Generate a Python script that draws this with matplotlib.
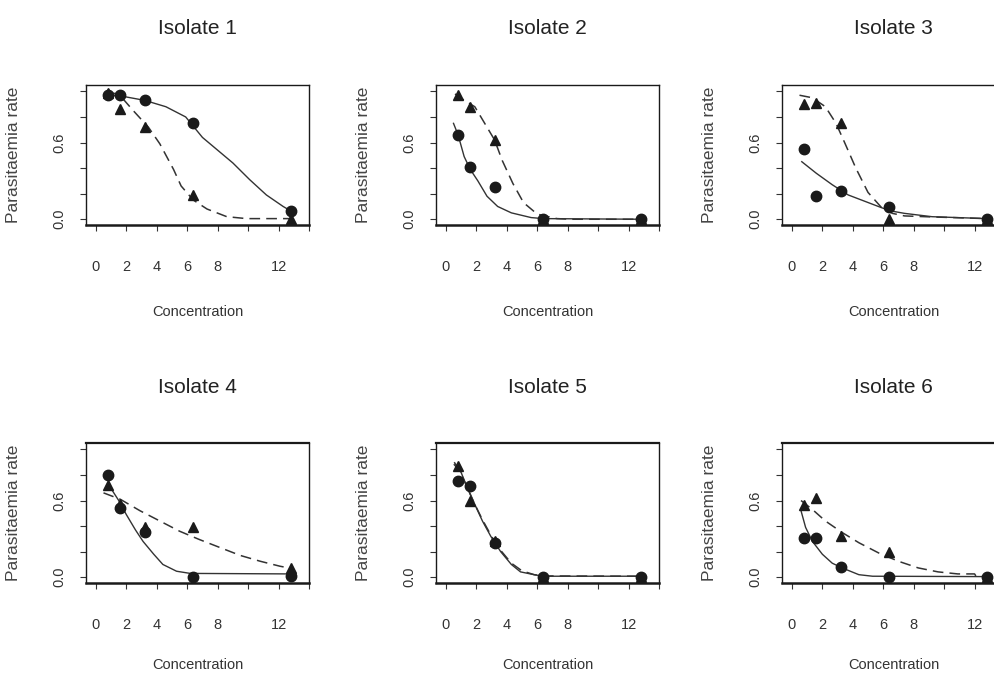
import matplotlib
matplotlib.use("Agg")
import matplotlib.pyplot as plt

# concentrations tested (same for every isolate)
conc = [0.8, 1.6, 3.2, 6.4, 12.8]

isolates = ["Isolate 1", "Isolate 2", "Isolate 3", "Isolate 4", "Isolate 5", "Isolate 6"]

# observed parasitaemia rates, circles and triangles
circle_rates = [
    [0.97, 0.97, 0.93, 0.75, 0.065],
    [0.66, 0.41, 0.25, 0.0, 0.0],
    [0.55, 0.18, 0.22, 0.095, 0.005],
    [0.80, 0.54, 0.355, 0.0, 0.01],
    [0.75, 0.71, 0.27, 0.0, 0.0],
    [0.31, 0.31, 0.08, 0.0, 0.0],
]
triangle_rates = [
    [0.99, 0.86, 0.72, 0.19, 0.0],
    [0.97, 0.88, 0.62, 0.0, 0.0],
    [0.90, 0.91, 0.755, 0.0, 0.0],
    [0.72, 0.57, 0.39, 0.39, 0.07],
    [0.87, 0.595, 0.28, 0.0, 0.0],
    [0.565, 0.62, 0.32, 0.20, 0.0],
]

# fitted curves (solid = circles, dashed = triangles)
solid_x = [
    [0.8, 1.6, 3.2, 4.6, 5.9, 7.0, 7.9, 9.0, 10.1, 11.2, 12.3, 12.8],
    [0.5, 0.8, 1.2, 1.6, 2.1, 2.7, 3.4, 4.3, 5.6, 6.4, 12.8],
    [0.65, 1.6, 2.65, 3.7, 4.8, 5.9, 6.5, 7.4, 9.2, 12.8],
    [0.8, 1.5, 2.0, 2.6, 3.1, 3.8, 4.4, 5.3, 6.2, 12.8],
    [0.55, 1.0, 1.4, 1.9, 2.4, 2.95, 3.6, 4.3, 4.9, 5.8, 6.4, 12.8],
    [0.6, 0.9, 1.35, 2.0, 2.65, 3.3, 4.4, 5.3, 12.8],
]
solid_y = [
    [0.97, 0.965, 0.93, 0.88, 0.80, 0.64, 0.55, 0.44, 0.31, 0.19, 0.10, 0.065],
    [0.75, 0.66, 0.49, 0.39, 0.30, 0.18, 0.10, 0.05, 0.013, 0.005, 0.0],
    [0.45, 0.36, 0.27, 0.19, 0.14, 0.09, 0.065, 0.046, 0.02, 0.005],
    [0.73, 0.60, 0.49, 0.37, 0.28, 0.18, 0.10, 0.047, 0.03, 0.026],
    [0.88, 0.82, 0.70, 0.57, 0.44, 0.32, 0.20, 0.10, 0.042, 0.02, 0.008, 0.008],
    [0.52, 0.39, 0.28, 0.18, 0.11, 0.073, 0.02, 0.008, 0.005],
]
dashed_x = [
    [0.8, 1.5, 2.45, 3.45, 4.2, 5.1, 5.6, 6.4, 7.3, 8.6, 9.9, 12.8],
    [0.6, 1.2, 1.9, 2.5, 3.2, 3.7, 4.4, 5.1, 6.0, 7.3, 8.2, 12.8],
    [0.5, 1.35, 2.2, 2.9, 3.5, 4.2, 5.0, 5.9, 6.6, 7.4, 9.2, 12.8],
    [0.5, 1.6, 2.9, 4.2, 5.5, 6.8, 8.2, 9.5, 10.8, 12.1, 12.9],
    [0.55, 1.0, 1.45, 1.9, 2.4, 3.0, 3.6, 4.3, 5.0, 5.8, 6.4, 12.8],
    [0.6, 1.35, 2.2, 3.3, 4.4, 5.7, 7.0, 8.3, 9.6, 10.9, 12.0, 12.1, 12.8],
]
dashed_y = [
    [0.99, 0.98, 0.85, 0.72, 0.59, 0.39, 0.26, 0.15, 0.08, 0.02, 0.005, 0.005],
    [0.98, 0.93, 0.88, 0.76, 0.62, 0.46, 0.28, 0.13, 0.04, 0.005, 0.0, 0.0],
    [0.97, 0.95, 0.88, 0.75, 0.59, 0.40, 0.21, 0.09, 0.046, 0.026, 0.018, 0.005],
    [0.66, 0.61, 0.52, 0.44, 0.36, 0.295, 0.23, 0.17, 0.125, 0.086, 0.068],
    [0.90, 0.81, 0.69, 0.57, 0.45, 0.32, 0.21, 0.11, 0.05, 0.02, 0.01, 0.008],
    [0.60, 0.53, 0.44, 0.35, 0.27, 0.19, 0.125, 0.073, 0.042, 0.026, 0.026, 0.008, 0.008],
]

x_ticks = [0, 2, 4, 6, 8, 10, 12, 14]
x_tick_labels = ["0", "2", "4", "6", "8", "", "12", ""]
y_ticks = [0.0, 0.2, 0.4, 0.6, 0.8, 1.0]
y_tick_labels = ["0.0", "", "", "0.6", "", ""]

plt.rcParams["font.family"] = ["Liberation Sans", "DejaVu Sans"]

W, H = 995, 675
fig = plt.figure(figsize=(W / 100, H / 100), dpi=100)

col_left = [86, 436, 782]
row_bottom = [225, 583]
xlabel_y = [-0.57, -0.535]
box_w, box_h = 223, 140
ink = "#1a1a1a"

for i, name in enumerate(isolates):
    r, c = divmod(i, 3)
    ax = fig.add_axes([col_left[c] / W, 1 - row_bottom[r] / H, box_w / W, box_h / H])

    ax.plot(solid_x[i], solid_y[i], color="#333333", lw=1.0, ls="-")
    ax.plot(dashed_x[i], dashed_y[i], color="#333333", lw=1.1, ls=(0, (7, 4)))
    ax.plot(conc, triangle_rates[i], ls="none", marker="^", ms=7.5, color=ink)
    ax.plot(conc, circle_rates[i], ls="none", marker="o", ms=7.5, color=ink)

    ax.set_xlim(-0.65, 14.0)
    ax.set_ylim(-0.045, 1.05)
    ax.set_xticks(x_ticks)
    ax.set_xticklabels(x_tick_labels)
    ax.set_yticks(y_ticks)
    ax.set_yticklabels(y_tick_labels, rotation=90, va="center")

    ax.tick_params(axis="x", direction="out", length=4, width=0.8, pad=21,
                   labelsize=10.5, colors="#333333")
    ax.tick_params(axis="y", direction="out", length=4, width=0.8, pad=10,
                   labelsize=10.5, colors="#333333")
    for s in ax.spines.values():
        s.set_linewidth(1.0)
        s.set_color(ink)
    ax.spines["bottom"].set_linewidth(1.8)
    if r == 1:
        ax.spines["top"].set_linewidth(1.6)

    ax.text(0.5, 1.40, name, transform=ax.transAxes, ha="center", va="center",
            fontsize=15, color="#222222")
    ax.set_xlabel("Concentration", fontsize=10.5, color="#333333")
    ax.xaxis.set_label_coords(0.5, xlabel_y[r])
    ax.set_ylabel("Parasitaemia rate", fontsize=12.5, color="#444444")
    ax.yaxis.set_label_coords(-0.29, 0.5)

fig.savefig("out.png", dpi=100)
